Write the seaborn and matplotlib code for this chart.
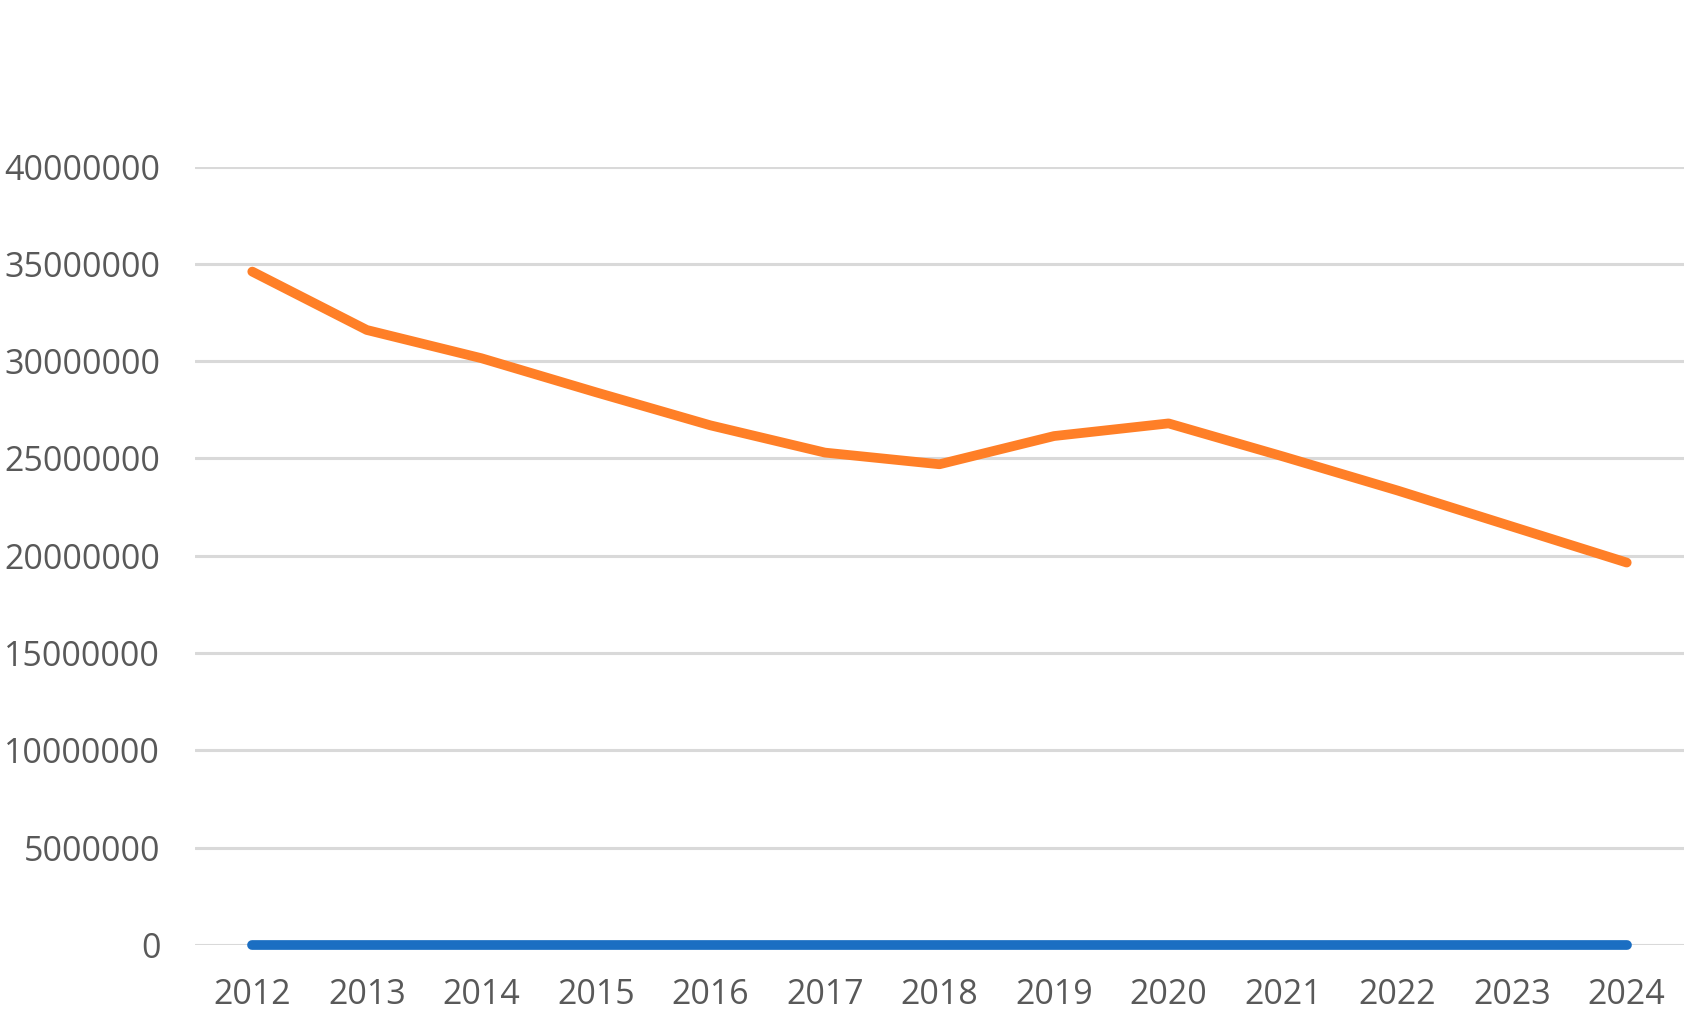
import matplotlib
matplotlib.use("Agg")
import matplotlib.pyplot as plt
import seaborn as sns
import pandas as pd

YEARS = [2012, 2013, 2014, 2015, 2016, 2017, 2018, 2019, 2020, 2021, 2022, 2023, 2024]
ORANGE_VALUES = [34600000, 31600000, 30150000, 28400000, 26700000, 25300000, 24700000,
                 26150000, 26800000, 25100000, 23350000, 21500000, 19650000]
BLUE_VALUES = [0, 0, 0, 0, 0, 0, 0, 0, 0, 0, 0, 0, 0]
Y_TICKS = [0, 5000000, 10000000, 15000000, 20000000, 25000000, 30000000, 35000000, 40000000]

COLORS = {"blue": "#1B6EC2", "orange": "#FF7F27"}


def build_frame():
    """Long-format table for seaborn"""
    rows = []
    for yr, v in zip(YEARS, BLUE_VALUES):
        rows.append([yr, "blue", v])
    for yr, v in zip(YEARS, ORANGE_VALUES):
        rows.append([yr, "orange", v])
    return pd.DataFrame(columns=["Year", "Series", "Value"], data=rows)


def main():
    sns.set_theme(style="white")
    plt.rcParams['font.family'] = ['Open Sans', 'DejaVu Sans']

    fig = plt.figure(figsize=(17, 10.19), dpi=100)
    ax = fig.add_axes([195 / 1700, 1 - 945 / 1019, (1684 - 195) / 1700, (945 - 166.5) / 1019])

    df = build_frame()
    sns.lineplot(data=df, x="Year", y="Value", hue="Series", palette=COLORS,
                 linewidth=7, solid_capstyle="round", legend=False, ax=ax,
                 zorder=3, clip_on=False)

    ax.set_xlim(YEARS[0] - 0.5, YEARS[-1] + 0.5)
    ax.set_ylim(0, 40000000)
    ax.set_xticks(YEARS)
    ax.set_xticklabels([str(y) for y in YEARS])
    ax.set_yticks(Y_TICKS)
    ax.set_yticklabels([str(t) for t in Y_TICKS])
    ax.yaxis.grid(True, color="#D9D9D9", linewidth=2.2)
    ax.xaxis.grid(False)
    for sp in ax.spines.values():
        sp.set_visible(False)
    ax.tick_params(axis="y", length=0, pad=25, labelsize=24.5, labelcolor="#595959")
    ax.tick_params(axis="x", length=0, pad=24, labelsize=24.5, labelcolor="#595959")
    ax.set_xlabel("")
    ax.set_ylabel("")

    fig.savefig("out.png", dpi=100, facecolor="white")


if __name__ == '__main__':
    main()
